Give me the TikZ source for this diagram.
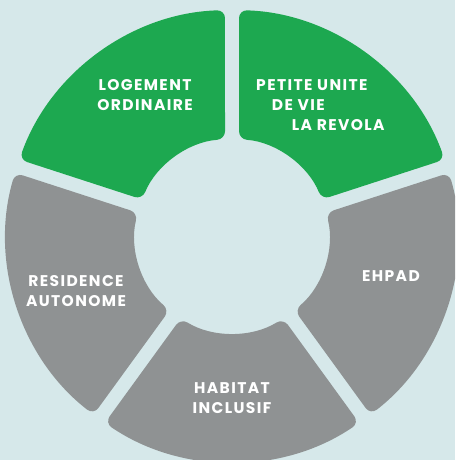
\documentclass[tikz,border=0pt]{standalone}
\usepackage{fontspec}
\setmainfont[LetterSpace=9]{Poppins}
\definecolor{fond}{HTML}{D6E8EA}
\definecolor{vert}{HTML}{1DA850}
\definecolor{gris}{HTML}{8F9293}
% one ring piece: colour, start angle, end angle
\newcommand{\piece}[3]{%
  \fill[piece, #1] ({#2+1.78}:226pt) arc[start angle={#2+1.78}, end angle={#3-1.78}, radius=226pt]
    -- ({#3-4.14}:97pt) arc[start angle={#3-4.14}, end angle={#2+4.14}, radius=97pt] -- cycle;}
\tikzset{
  piece/.style={rounded corners=8pt},
  lbl/.style={text=white, inner sep=0pt, font=\bfseries\fontsize{15.5}{20}\selectfont}
}
\begin{document}
\begin{tikzpicture}[x=1pt, y=1pt]
  \useasboundingbox (0,0) rectangle (455,460);
  \clip (0,0) rectangle (455,460);
  \fill[fond] (0,0) rectangle (455,460);
  \coordinate (c) at (232,224);

  \begin{scope}[shift={(c)}]
    \piece{vert}{90}{162}
    \piece{vert}{18}{90}
    \piece{gris}{-54}{18}
    \piece{gris}{-126}{-54}
    \piece{gris}{162}{234}
  \end{scope}

  \node[lbl, align=center] (logement) at (145,364.6) {LOGEMENT\\ORDINAIRE};
  \node[lbl, align=left, anchor=west] (petite) at (256,355.3) {PETITE UNITE\\\hspace*{15.7pt}DE VIE\\\hspace*{35.7pt}LA REVOLA};
  \node[lbl] (ehpad) at (391,183.5) {EHPAD};
  \node[lbl, align=center] (residence) at (76,169.3) {RESIDENCE\\AUTONOME};
  \node[lbl, align=center] (habitat) at (232,61.7) {HABITAT\\INCLUSIF};
\end{tikzpicture}
\end{document}
